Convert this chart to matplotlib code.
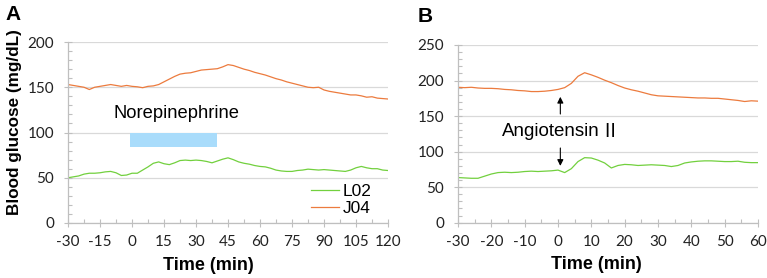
import matplotlib
matplotlib.use("Agg")
import matplotlib.pyplot as plt
from matplotlib.ticker import MultipleLocator

plt.rcParams["axes.unicode_minus"] = False

# ---------------- data ----------------
a_time = [-30, -27.5, -25, -22.5, -20, -17.5, -15, -12.5, -10, -7.5, -5, -2.5, 0, 2.5, 5, 7.5,
          10, 12.5, 15, 17.5, 20, 22.5, 25, 27.5, 30, 32.5, 35, 37.5, 40, 42.5, 45, 47.5,
          50, 52.5, 55, 57.5, 60, 62.5, 65, 67.5, 70, 72.5, 75, 77.5, 80, 82.5, 85, 87.5,
          90, 92.5, 95, 97.5, 100, 102.5, 105, 107.5, 110, 112.5, 115, 117.5, 120]
a_j04 = [153, 152, 151, 150, 147.5, 150, 151, 152, 153, 152, 151, 152, 151, 150.5, 149.5, 151,
         151.5, 153, 156, 159, 162, 164.5, 165.5, 166, 167.5, 169, 169.5, 170, 170.5, 172.5, 175, 174,
         172, 170, 168.5, 166.5, 165, 163.5, 161.5, 159.5, 158, 156, 154.5, 153, 151.5, 150, 149.5, 150,
         147, 145.5, 144.5, 143.5, 142.5, 141.5, 141.5, 140.5, 139, 139.5, 138, 137.5, 137]
a_l02 = [50, 51, 52, 54, 55, 55, 55.5, 56.5, 57, 55.5, 52.5, 53, 55, 55, 58.5, 62,
         66, 67.5, 65.5, 64.5, 66.5, 69, 69.5, 69, 69.5, 69, 68, 66.5, 68.5, 70.5, 72, 70,
         67.5, 66, 65, 63.5, 62.5, 62, 60.5, 58.5, 57.5, 57, 57, 58, 58.5, 59.5, 59, 58.5,
         59, 58.5, 58, 57.5, 57, 58.5, 61, 62.5, 61, 60, 60, 58.5, 58]

b_time = [-30, -28, -26, -24, -22, -20, -18, -16, -14, -12, -10, -8, -6, -4, -2, 0, 2, 4, 6, 8,
          10, 12, 14, 16, 18, 20, 22, 24, 26, 28, 30, 32, 34, 36, 38, 40, 42, 44, 46, 48,
          50, 52, 54, 56, 58, 60]
b_j04 = [190.5, 190, 190.5, 189.5, 189, 189, 188.5, 187.5, 187, 186, 185.5, 184.5, 184.5, 185, 186,
         187.5, 190, 196, 206, 211, 208, 204.5, 200.5, 197, 193, 189.5, 187, 185, 182.5, 180,
         178.5, 178, 177.5, 177, 176.5, 176, 175.5, 175.5, 175, 175, 174, 173, 172, 170.5, 171.5, 171]
b_l02 = [63.5, 63, 62.5, 62.5, 65.5, 68.5, 70.5, 71, 70.5, 71, 72, 72.5, 72, 72.5, 73,
         74, 70.5, 76, 86, 91.5, 91, 88, 84, 77, 80.5, 82, 81.5, 80.5, 81, 81.5,
         81, 80.5, 79, 80.5, 84, 85.5, 86.5, 87, 87, 86.5, 86, 86, 86.5, 85, 84.5, 84.5]

series_names = ["L02", "J04"]
a_xticks = [-30, -15, 0, 15, 30, 45, 60, 75, 90, 105, 120]
b_xticks = [-30, -20, -10, 0, 10, 20, 30, 40, 50, 60]
norepi_start, norepi_end = -1, 40
norepi_low, norepi_high = 84, 100
angio_time = 0.7

# ---------------- style ----------------
GREEN = "#72d03e"
ORANGE = "#ec7b3e"
GRID = "#d9d9d9"
SPINE = "#bfbfbf"
TICKFONT = "Lato"
TEXTFONT = "Liberation Sans"

fig = plt.figure(figsize=(7.67, 2.78), dpi=100)
axA = fig.add_axes([68/767, 1-223/278, 320/767, 181/278])
axB = fig.add_axes([458/767, 1-222.7/278, 300/767, 177.7/278])


def style(ax, xmaj, xmin, ymaj, ymin):
    for s in ["top", "right"]:
        ax.spines[s].set_visible(False)
    for s in ["left", "bottom"]:
        ax.spines[s].set_color(SPINE)
        ax.spines[s].set_linewidth(0.9)
    ax.xaxis.set_major_locator(MultipleLocator(xmaj))
    ax.xaxis.set_minor_locator(MultipleLocator(xmin))
    ax.yaxis.set_major_locator(MultipleLocator(ymaj))
    ax.yaxis.set_minor_locator(MultipleLocator(ymin))
    ax.tick_params(which="major", direction="inout", length=6, width=0.8, color=SPINE,
                   labelsize=11, labelcolor="#222222")
    ax.tick_params(axis="y", which="major", pad=7)
    ax.tick_params(axis="x", which="major", pad=6)
    ax.tick_params(which="minor", direction="in", length=3, width=0.8, color=SPINE)
    ax.grid(axis="y", which="major", color=GRID, linewidth=0.9)
    ax.set_axisbelow(True)


def fontify(ax):
    for lab in ax.get_xticklabels() + ax.get_yticklabels():
        lab.set_fontfamily(TICKFONT)


# Panel A
axA.plot(a_time, a_l02, color=GREEN, lw=0.9, label=series_names[0])
axA.plot(a_time, a_j04, color=ORANGE, lw=0.9, label=series_names[1])
axA.set_xlim(-30, 120)
axA.set_ylim(0, 200)
style(axA, 15, 7.5, 50, 10)
axA.set_xticks(a_xticks)
fontify(axA)
axA.fill_between([norepi_start, norepi_end], norepi_low, norepi_high, color="#a9dcfb", lw=0)
axA.text(21, 121, "Norepinephrine", ha="center", va="center", fontsize=13.2, family=TEXTFONT)
leg = axA.legend(loc="lower right", bbox_to_anchor=(0.98, -0.02), frameon=False,
                 prop={"family": TEXTFONT, "size": 12.5}, handlelength=1.6, handletextpad=0.2,
                 labelspacing=0.1, borderaxespad=0.2)
axA.set_xlabel("Time (min)", fontsize=13, fontweight="bold", family=TEXTFONT)
axA.xaxis.set_label_coords(0.44, -0.19)
axA.set_ylabel("Blood glucose (mg/dL)", fontsize=12.3, fontweight="bold", family=TEXTFONT)
axA.yaxis.set_label_coords(-0.145, 0.56)

# Panel B
axB.plot(b_time, b_l02, color=GREEN, lw=0.9)
axB.plot(b_time, b_j04, color=ORANGE, lw=0.9)
axB.set_xlim(-30, 60)
axB.set_ylim(0, 250)
style(axB, 10, 5, 50, 10)
axB.set_xticks(b_xticks)
fontify(axB)
axB.set_xlabel("Time (min)", fontsize=13, fontweight="bold", family=TEXTFONT)
axB.xaxis.set_label_coords(0.46, -0.19)
axB.text(-16.9, 128, "Angiotensin", ha="left", va="center", fontsize=13.5, family=TEXTFONT)
axB.text(15.6, 128, "Ⅱ", ha="center", va="center", fontsize=13.5,
         family=["Noto Sans CJK JP", TEXTFONT])
arrow = dict(arrowstyle="-|>", color="black", lw=0.8, mutation_scale=9)
axB.annotate("", xy=(angio_time, 181), xytext=(angio_time, 149), arrowprops=arrow)
axB.annotate("", xy=(angio_time, 76), xytext=(angio_time, 109), arrowprops=arrow)

fig.text(5/767, 1-15/278, "A", fontsize=15, fontweight="bold", family=TEXTFONT, va="center")
fig.text(418/767, 1-16/278, "B", fontsize=15, fontweight="bold", family=TEXTFONT, va="center")

fig.savefig("out.png", dpi=100)
